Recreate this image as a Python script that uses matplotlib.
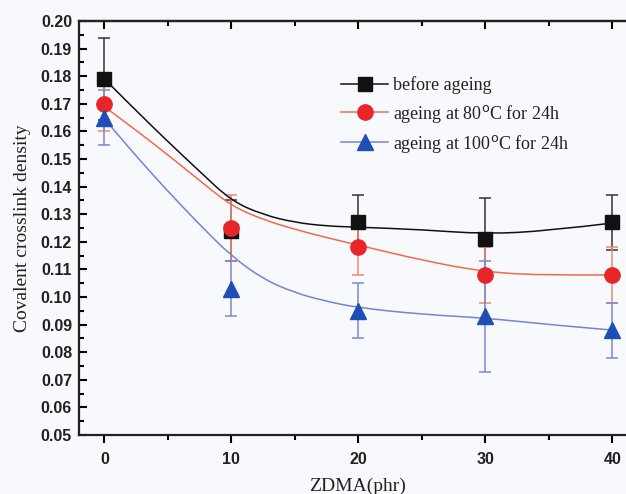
import matplotlib
matplotlib.use("Agg")
import matplotlib.pyplot as plt
from matplotlib.path import Path
from matplotlib.patches import PathPatch
import numpy as np

# data
zdma = [0, 10, 20, 30, 40]
before = [0.179, 0.124, 0.127, 0.121, 0.127]
before_err = [0.015, 0.011, 0.010, 0.015, 0.010]
age80 = [0.170, 0.125, 0.118, 0.108, 0.108]
age80_err = [0.010, 0.012, 0.010, 0.010, 0.010]
age100 = [0.165, 0.103, 0.095, 0.093, 0.088]
age100_err = [0.010, 0.010, 0.010, 0.020, 0.010]

# fitted curves
fit_x = [0, 2.5, 5, 7.5, 10, 12.5, 15, 17.5, 20, 25, 30, 35, 40]
fit_before = [0.179, 0.1675, 0.1563, 0.1455, 0.1348, 0.1298, 0.1270, 0.1257, 0.1253, 0.1244, 0.1228, 0.1240, 0.1268]
fit_80 = [0.169, 0.1604, 0.1515, 0.1422, 0.1330, 0.1280, 0.1245, 0.1215, 0.1188, 0.1133, 0.1090, 0.1078, 0.1080]
fit_100 = [0.1645, 0.1510, 0.1383, 0.1262, 0.1148, 0.1065, 0.1015, 0.0984, 0.0961, 0.0937, 0.0924, 0.0900, 0.0880]

labels = ["before ageing",
          r"ageing at 80$^{\mathrm{o}}$C for 24h",
          r"ageing at 100$^{\mathrm{o}}$C for 24h"]


def smooth_path(xs, ys):
    pts = list(zip(xs, ys))
    verts = [pts[0]]
    codes = [Path.MOVETO]
    for i in range(1, len(pts) - 1):
        mid = ((pts[i][0] + pts[i + 1][0]) / 2, (pts[i][1] + pts[i + 1][1]) / 2)
        if i == len(pts) - 2:
            mid = pts[-1]
        verts += [pts[i], mid]
        codes += [Path.CURVE3, Path.CURVE3]
    return Path(verts, codes)


bg = "#f8f9fc"
fig = plt.figure(figsize=(6.26, 4.94), dpi=100, facecolor=bg)
ax = fig.add_axes([79/626, 59/494, 558.8/626, 414/494], facecolor=bg)

series = [
    (before, before_err, fit_before, "#111111", "#111111", "#333333", "s", 9.5),
    (age80, age80_err, fit_80, "#f26a4a", "#e8262a", "#f08a70", "o", 11),
    (age100, age100_err, fit_100, "#7484d4", "#1f4fb4", "#7a8ad4", "^", 11),
]
handles = []
for (vals, err, fit, lc, mc, ec, mk, ms), lab in zip(series, labels):
    ax.errorbar(zdma, vals, yerr=err, fmt="none", ecolor=ec, elinewidth=1.1,
                capsize=4.5, capthick=1.1, zorder=2)
    ax.add_patch(PathPatch(smooth_path(fit_x, fit), facecolor="none",
                           edgecolor=lc, lw=1.1, zorder=3))
    ax.plot(zdma, vals, ls="none", marker=mk, ms=ms, color=mc, mec=mc, zorder=4)
    h, = ax.plot([], [], color=lc, lw=1.1, marker=mk, ms=ms, mfc=mc, mec=mc)
    handles.append(h)

ax.set_xlim(-2, 42)
ax.set_ylim(0.05, 0.20)
ax.set_xticks(zdma)
ax.set_xticks([5, 15, 25, 35], minor=True)
ax.set_yticks(np.arange(0.05, 0.2001, 0.01))
ax.set_yticks(np.arange(0.055, 0.2, 0.01), minor=True)
ax.yaxis.set_major_formatter(matplotlib.ticker.FormatStrFormatter("%.2f"))

for t in ax.get_xticklabels() + ax.get_yticklabels():
    t.set_fontfamily("Liberation Sans"); t.set_fontweight("bold"); t.set_fontsize(11.5)
    t.set_color("#222222")

ax.tick_params(axis="x", which="major", direction="out", length=6, width=1.5, pad=6)
ax.tick_params(axis="x", which="minor", direction="out", length=3.5, width=1.5)
ax.tick_params(axis="y", which="major", direction="in", length=6, width=1.5, pad=5)
ax.tick_params(axis="y", which="minor", direction="in", length=3.5, width=1.5)

sec = ax.secondary_xaxis("top")
sec.set_xticks(zdma)
sec.set_xticks([5, 15, 25, 35], minor=True)
sec.tick_params(which="major", direction="in", length=6, width=1.5, labeltop=False)
sec.tick_params(which="minor", direction="in", length=3.5, width=1.5)
sec.spines["top"].set_linewidth(1.6)
sec.spines["top"].set_color("#222222")

for s in ["left", "bottom", "top"]:
    ax.spines[s].set_linewidth(1.6)
    ax.spines[s].set_color("#222222")
ax.spines["right"].set_visible(False)

ax.set_ylabel("Covalent crosslink density", family="Liberation Serif", fontsize=14,
              color="#222222", labelpad=7)
ax.set_xlabel("ZDMA(phr)", family="Liberation Serif", fontsize=14, color="#222222")
ax.xaxis.set_label_coords((357 - 79) / 558.8, -0.103)

leg = ax.legend(handles, labels, loc="upper left", bbox_to_anchor=(0.44, 0.905),
                frameon=False, prop={"family": "Liberation Serif", "size": 13},
                handlelength=2.6, handletextpad=0.3, labelspacing=0.45)
for t in leg.get_texts():
    t.set_color("#222222")

fig.savefig("out.png", dpi=100, facecolor=bg)
